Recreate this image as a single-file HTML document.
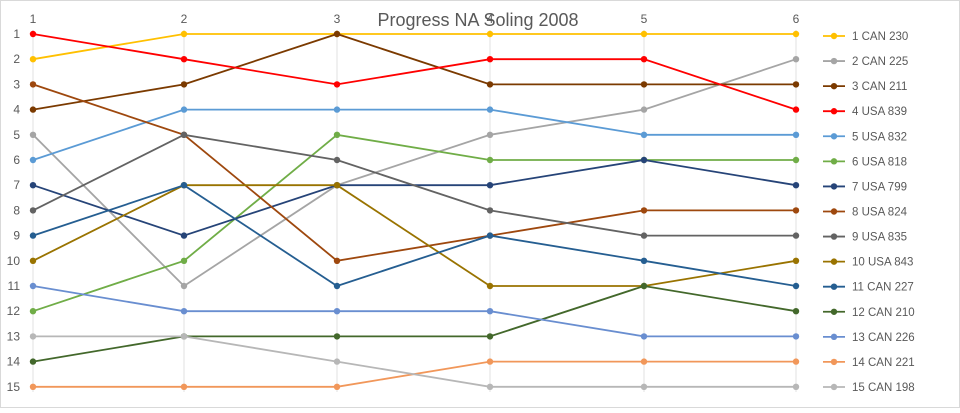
<!DOCTYPE html>
<html><head><meta charset="utf-8"><style>
body{margin:0;background:#fff;}
svg text{font-family:"Liberation Sans",sans-serif;}
</style></head><body>
<svg width="960" height="408" viewBox="0 0 960 408" xmlns="http://www.w3.org/2000/svg">
<rect x="0.5" y="0.5" width="959" height="407" fill="#fff" stroke="#d9d9d9"/>
<g id="c"></g>
</svg>
<script>
const X=[33,184,337,490,644,796];
const Y=r=>34+(r-1)*25.2;
const S=[
["1 CAN 230","#FFC000",[2,1,1,1,1,1]],
["2 CAN 225","#A5A5A5",[5,11,7,5,4,2]],
["3 CAN 211","#7B3A00",[4,3,1,3,3,3]],
["4 USA 839","#FF0000",[1,2,3,2,2,4]],
["5 USA 832","#5B9BD5",[6,4,4,4,5,5]],
["6 USA 818","#70AD47",[12,10,5,6,6,6]],
["7 USA 799","#264478",[7,9,7,7,6,7]],
["8 USA 824","#9E480E",[3,5,10,9,8,8]],
["9 USA 835","#636363",[8,5,6,8,9,9]],
["10 USA 843","#997300",[10,7,7,11,11,10]],
["11 CAN 227","#255E91",[9,7,11,9,10,11]],
["12 CAN 210","#43682B",[14,13,13,13,11,12]],
["13 CAN 226","#698ED0",[11,12,12,12,13,13]],
["14 CAN 221","#F1975A",[15,15,15,14,14,14]],
["15 CAN 198","#B7B7B7",[13,13,14,15,15,15]]];
let h='';
X.forEach((x,i)=>{h+=`<line x1="${x}" y1="30" x2="${x}" y2="392" stroke="#e0e0e0"/>`;h+=`<text x="${x}" y="23" font-size="12" fill="#595959" text-anchor="middle">${i+1}</text>`;});
for(let r=1;r<=15;r++)h+=`<text x="20" y="${Y(r)+4}" font-size="12" fill="#595959" text-anchor="end">${r}</text>`;
S.forEach((s,k)=>{const p=s[2].map((r,i)=>X[i]+','+Y(r)).join(' ');
h+=`<polyline points="${p}" fill="none" stroke="${s[1]}" stroke-width="1.8"/>`;
s[2].forEach((r,i)=>h+=`<circle cx="${X[i]}" cy="${Y(r)}" r="3.2" fill="${s[1]}"/>`);
const ly=36+k*25.07;
h+=`<line x1="823" y1="${ly}" x2="845" y2="${ly}" stroke="${s[1]}" stroke-width="1.8"/><circle cx="834" cy="${ly}" r="3.2" fill="${s[1]}"/>`;
h+=`<text x="852" y="${ly+4}" font-size="11.5" fill="#595959">${s[0]}</text>`;});
h+=`<text x="478" y="26" font-size="18" fill="#595959" text-anchor="middle">Progress NA Soling 2008</text>`;
document.getElementById('c').innerHTML=h;
</script>
</body></html>
